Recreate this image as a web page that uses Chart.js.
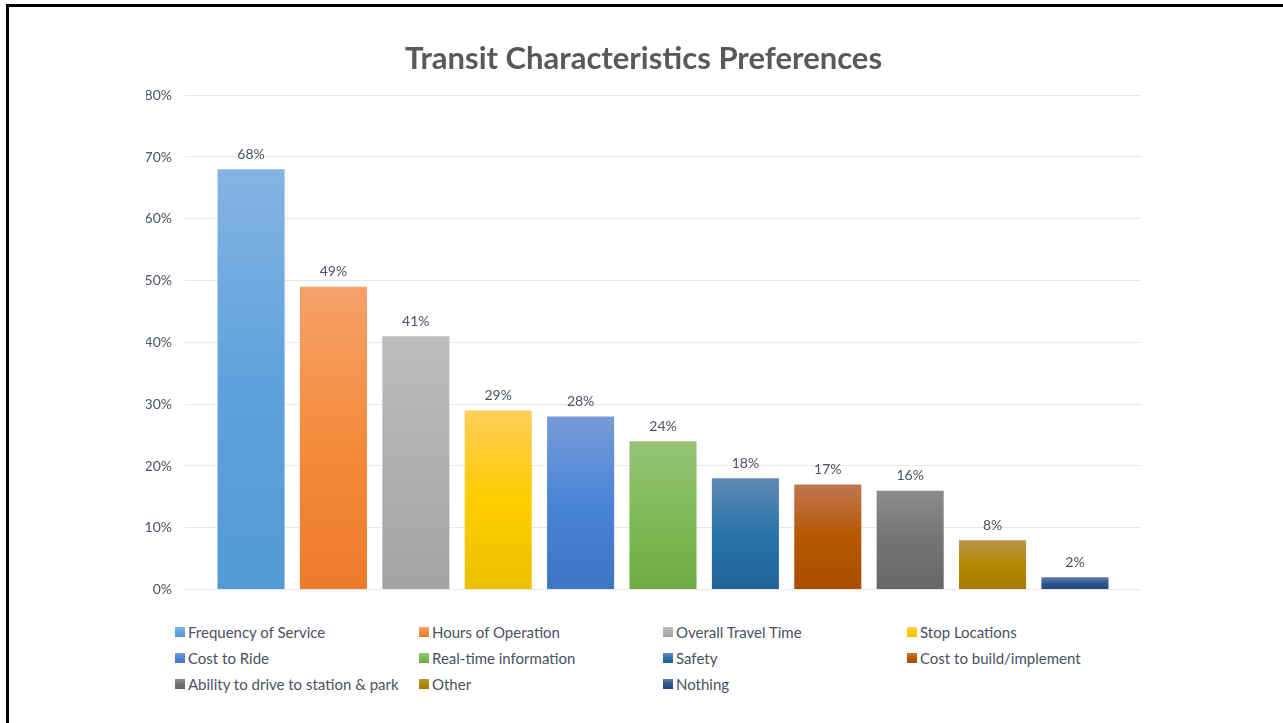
<!DOCTYPE html>
<html>
<head>
<meta charset="utf-8">
<script src="https://cdn.jsdelivr.net/npm/chart.js@4/dist/chart.umd.min.js"></script>
<style>
  html, body { margin: 0; padding: 0; background: #fff; }
  body { width: 1283px; height: 723px; position: relative; overflow: hidden; font-family: Lato, "Open Sans", sans-serif; }
  #frame { position: absolute; left: 6px; top: 4px; width: 1300px; height: 740px; border-top: 3px solid #000; border-left: 3px solid #000; }
  #wrap { position: absolute; left: 0; top: 0; width: 1283px; height: 611px; }
  #legend { position: absolute; left: 175px; top: 623px; width: 980px; display: grid; grid-template-columns: 244px 244px 244px 244px; row-gap: 8px; }
  .item { display: flex; align-items: center; height: 18px; font-size: 15px; color: #4a5263; white-space: nowrap; }
  .box { width: 10px; height: 10px; margin-right: 3px; flex: none; }
</style>
</head>
<body>
<div id="frame"></div>
<div id="wrap"><canvas id="chart"></canvas></div>
<div id="legend"></div>
<script>
// === Data ===
const categories = [
  'Frequency of Service', 'Hours of Operation', 'Overall Travel Time', 'Stop Locations',
  'Cost to Ride', 'Real-time information', 'Safety', 'Cost to build/implement',
  'Ability to drive to station & park', 'Other', 'Nothing'
];
const values = [68, 49, 41, 29, 28, 24, 18, 17, 16, 8, 2];
const yTicks = [0, 10, 20, 30, 40, 50, 60, 70, 80];

// gradient stops per bar: top, middle, bottom
const topColors = ['#84b4e2', '#f5a16a', '#bdbdbd', '#fecd58', '#779bd9', '#95c377', '#6089b4', '#bf7650', '#8c8c8c', '#b8964e', '#5f7eb0'];
const midColors = ['#5fa2dd', '#f58b3c', '#b0b0b0', '#ffcd00', '#4a84d6', '#7fba57', '#2774a8', '#b65800', '#747474', '#b38a00', '#2e5694'];
const botColors = ['#529bd5', '#ec7c2b', '#a3a3a3', '#ecc000', '#3e75c4', '#70ab42', '#1f6499', '#a94c00', '#676767', '#a47a00', '#24467e'];

const textColor = '#4a5263';

function barGradient(ctx, i) {
  const chart = ctx.chart;
  const y = chart.scales && chart.scales.y;
  if (!chart.chartArea || !y) return midColors[i];
  const top = y.getPixelForValue(values[i]);
  const bottom = y.getPixelForValue(0);
  const g = chart.ctx.createLinearGradient(0, top, 0, bottom);
  g.addColorStop(0, topColors[i]);
  g.addColorStop(0.5, midColors[i]);
  g.addColorStop(1, botColors[i]);
  return g;
}

const datasets = categories.map((name, i) => ({
  label: name,
  data: [values[i]],
  backgroundColor: ctx => barGradient(ctx, i),
  borderWidth: 0,
  categoryPercentage: 0.948,
  barPercentage: 0.814
}));

// value labels above each bar
const valueLabels = {
  id: 'valueLabels',
  afterDatasetsDraw(chart) {
    const ctx = chart.ctx;
    ctx.save();
    ctx.font = '14px Lato, "Open Sans", sans-serif';
    ctx.fillStyle = textColor;
    ctx.textAlign = 'center';
    ctx.textBaseline = 'bottom';
    chart.data.datasets.forEach((ds, i) => {
      const bar = chart.getDatasetMeta(i).data[0];
      if (bar) ctx.fillText(ds.data[0] + '%', bar.x, bar.y - 8);
    });
    ctx.restore();
  }
};

const chart = new Chart(document.getElementById('chart'), {
  type: 'bar',
  data: { labels: [''], datasets: datasets },
  plugins: [valueLabels],
  options: {
    responsive: true,
    maintainAspectRatio: false,
    animation: false,
    layout: { padding: { left: 146, right: 142, top: 34, bottom: 11 } },
    plugins: {
      legend: { display: false },
      tooltip: { enabled: false },
      title: {
        display: true,
        text: 'Transit Characteristics Preferences',
        color: '#595959',
        font: { family: 'Lato, "Open Sans", sans-serif', size: 31, weight: 'bold' },
        padding: { top: 6, bottom: 18 }
      }
    },
    scales: {
      x: { display: false },
      y: {
        min: 0,
        max: 80,
        afterBuildTicks: scale => { scale.ticks = yTicks.map(v => ({ value: v })); },
        afterFit: scale => { scale.width = 39; },
        border: { display: false },
        grid: { color: '#e8e8e8', drawTicks: false },
        ticks: {
          padding: 13,
          color: textColor,
          font: { family: 'Lato, "Open Sans", sans-serif', size: 14 },
          callback: v => v + '%'
        }
      }
    }
  }
});

// === Legend (grid of 4 columns) ===
const legend = document.getElementById('legend');
chart.data.datasets.forEach((ds, i) => {
  const item = document.createElement('div');
  item.className = 'item';
  const box = document.createElement('span');
  box.className = 'box';
  box.style.background = 'linear-gradient(' + topColors[i] + ',' + midColors[i] + ' 50%,' + botColors[i] + ')';
  const label = document.createElement('span');
  label.textContent = ds.label;
  item.appendChild(box);
  item.appendChild(label);
  legend.appendChild(item);
});
</script>
</body>
</html>
